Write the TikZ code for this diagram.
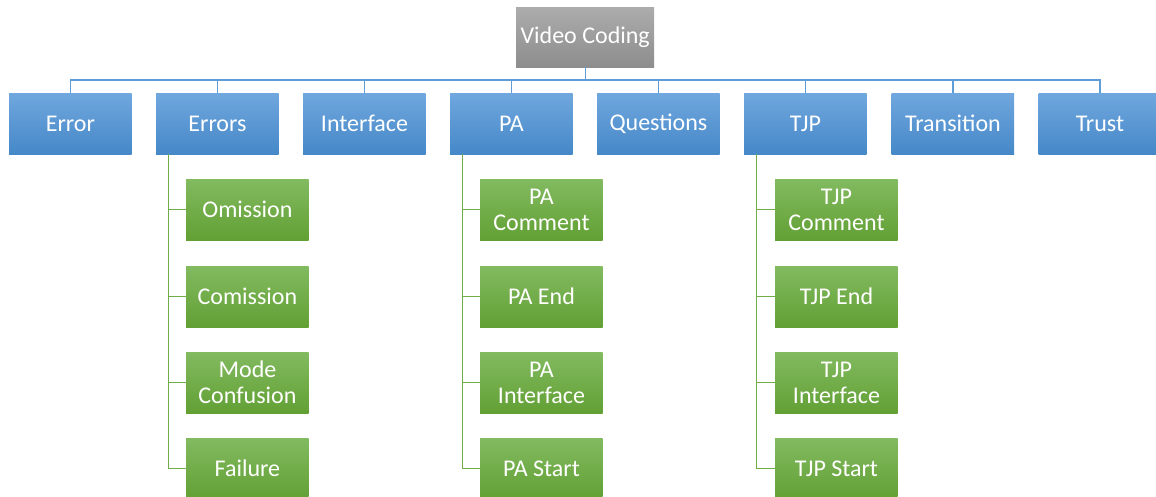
\documentclass[tikz,border=0pt]{standalone}
\usepackage{fontspec}
\setmainfont{Carlito}
\begin{document}
\begin{tikzpicture}[x=1pt,y=-1pt,
  box/.style={anchor=north west, minimum width=122.5pt, minimum height=61pt,
    inner sep=0pt, align=center, text=white,
    font=\fontsize{24}{26}\selectfont},
  catbox/.style={box, top color=catTop, bottom color=catBot},
  subbox/.style={box, top color=subTop, bottom color=subBot},
  catline/.style={draw=catLine, line width=1.4pt},
  subline/.style={draw=subLine, line width=1.4pt}]
\definecolor{catTop}{RGB}{112,167,222}
\definecolor{catBot}{RGB}{69,136,200}
\definecolor{subTop}{RGB}{130,186,96}
\definecolor{subBot}{RGB}{98,160,52}
\definecolor{rootTop}{RGB}{172,172,172}
\definecolor{rootBot}{RGB}{141,141,141}
\definecolor{catLine}{RGB}{95,157,214}
\definecolor{subLine}{RGB}{112,173,71}
\useasboundingbox (0,0) rectangle (1156,497);

% root
\node[box, minimum width=138pt, minimum height=60pt,
  top color=rootTop, bottom color=rootBot] (root) at (516,7) {Video Coding};

% categories
\node[catbox] (error)      at (9,93)      {Error};
\node[catbox] (errors)     at (156,93)    {Errors};
\node[catbox] (interface)  at (303,93)    {Interface};
\node[catbox] (pa)         at (450,93)    {PA};
\node[catbox] (questions)  at (597,93)    {Questions};
\node[catbox] (tjp)        at (744,93)    {TJP};
\node[catbox] (transition) at (891.5,93)  {Transition};
\node[catbox] (trust)      at (1038.5,93) {Trust};

% sub-items under Errors
\node[subbox] (omission)  at (186,179) {Omission};
\node[subbox] (comission) at (186,266) {Comission};
\node[subbox] (modeconf)  at (186,352) {Mode\\Confusion};
\node[subbox] (failure)   at (186,438) {Failure};

% sub-items under PA
\node[subbox] (pacomment) at (480,179) {PA\\Comment};
\node[subbox] (paend)     at (480,266) {PA End};
\node[subbox] (paiface)   at (480,352) {PA\\Interface};
\node[subbox] (pastart)   at (480,438) {PA Start};

% sub-items under TJP
\node[subbox] (tjpcomment) at (775,179) {TJP\\Comment};
\node[subbox] (tjpend)     at (775,266) {TJP End};
\node[subbox] (tjpiface)   at (775,352) {TJP\\Interface};
\node[subbox] (tjpstart)   at (775,438) {TJP Start};

% top-level bus
\coordinate (bus) at (root.south |- 0,80);
\draw[catline] (root.south) -- (bus);
\foreach \c in {error,errors,interface,pa,questions,tjp,transition,trust}
  \draw[catline] (\c.north) |- (bus);

% branch lines to sub-items
\coordinate (errtrunk) at ([xshift=12.5pt]errors.south west);
\coordinate (patrunk)  at ([xshift=12.5pt]pa.south west);
\coordinate (tjptrunk) at ([xshift=12.5pt]tjp.south west);
\foreach \c in {omission,comission,modeconf,failure}
  \draw[subline] (errtrunk) |- (\c.west);
\foreach \c in {pacomment,paend,paiface,pastart}
  \draw[subline] (patrunk) |- (\c.west);
\foreach \c in {tjpcomment,tjpend,tjpiface,tjpstart}
  \draw[subline] (tjptrunk) |- (\c.west);
\end{tikzpicture}
\end{document}
